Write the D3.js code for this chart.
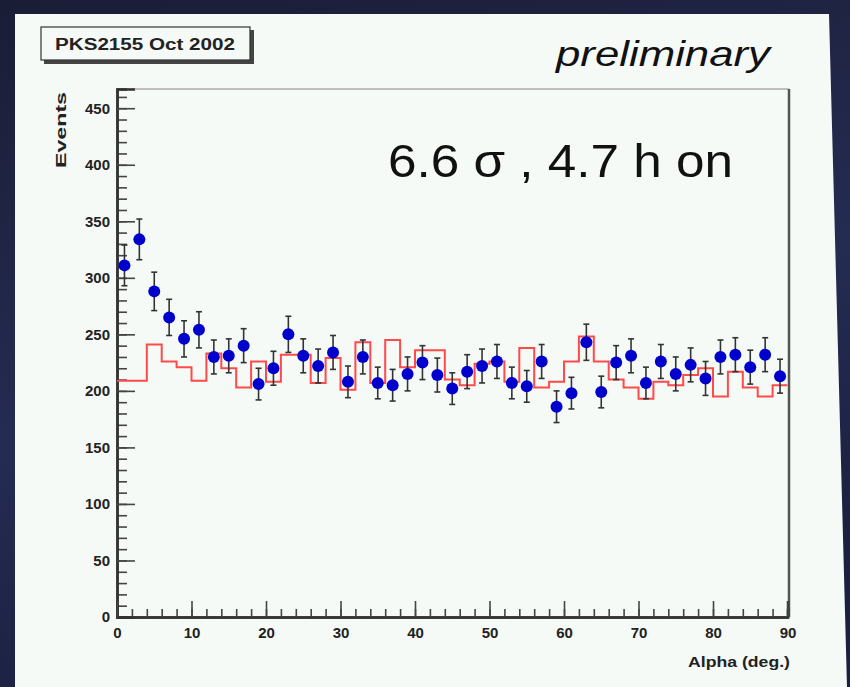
<!DOCTYPE html>
<html>
<head>
<meta charset="utf-8">
<script src="https://cdn.jsdelivr.net/npm/d3@7"></script>
<style>
  body { margin: 0; background: #1c2140; }
  svg { display: block; }
</style>
</head>
<body>
<svg id="graph" width="850" height="687"></svg>
<script>
// alpha bin centres (deg) for ON data points
const alphaCenters = [1, 3, 5, 7, 9, 11, 13, 15, 17, 19, 21, 23, 25, 27, 29, 31, 33, 35, 37, 39, 41, 43, 45,
    47, 49, 51, 53, 55, 57, 59, 61, 63, 65, 67, 69, 71, 73, 75, 77, 79, 81, 83, 85, 87, 89];
const onEvents = [311, 334, 288, 265, 246, 254, 230, 231, 240, 206, 220, 250, 231, 222, 234, 208, 230, 207, 205,
    215, 225, 214, 202, 217, 222, 226, 207, 204, 226, 186, 198, 243, 199, 225, 231, 207, 226, 215, 223, 211,
    230, 232, 221, 232, 213];
const onErrors = [18, 18, 17, 16, 16, 16, 15, 15, 15, 14, 15, 16, 15, 15, 15, 14, 15, 14, 14, 15, 15, 15, 14,
    15, 15, 15, 14, 14, 15, 14, 14, 16, 14, 15, 15, 14, 15, 15, 15, 15, 15, 15, 15, 15, 15];
// OFF (background) histogram, 2 deg bins starting at 0
const offBinWidth = 2;
const offEvents = [209, 209, 241, 226, 221, 209, 233, 220, 203, 226, 208, 232, 232, 207, 229, 201, 243, 207, 245,
    221, 236, 236, 210, 205, 224, 226, 208, 238, 203, 208, 226, 248, 226, 210, 203, 193, 208, 205, 214, 220,
    195, 217, 203, 195, 205];
const yMajorTicks = [0, 50, 100, 150, 200, 250, 300, 350, 400, 450];
const xMajorTicks = [0, 10, 20, 30, 40, 50, 60, 70, 80, 90];

const svg = d3.select("#graph");

// starry backdrop + slightly skewed white slide panel
const defs = svg.append("defs");
const grad = defs.append("linearGradient").attr("id", "sky")
    .attr("x1", 0).attr("y1", 0).attr("x2", 0.3).attr("y2", 1);
grad.append("stop").attr("offset", "0%").attr("stop-color", "#1a1d36");
grad.append("stop").attr("offset", "60%").attr("stop-color", "#252c52");
grad.append("stop").attr("offset", "100%").attr("stop-color", "#1b2040");
svg.append("rect").attr("width", 850).attr("height", 687).attr("fill", "url(#sky)");

svg.append("polygon")
    .attr("points", "15,14 829,14 847,687 15,687")
    .attr("fill", "#f5faf7");

const margin = { top: 89, left: 117, right: 787.5, bottom: 617 };

const x = d3.scaleLinear().domain([0, 90]).range([margin.left, margin.right]);
const y = d3.scaleLinear().domain([0, 467]).range([margin.bottom, margin.top]);

// frame
svg.append("line")
    .attr("x1", margin.left).attr("x2", 789)
    .attr("y1", margin.top).attr("y2", margin.top)
    .attr("stroke", "#aaa").attr("stroke-width", 1.5);
svg.append("line")
    .attr("x1", 789).attr("x2", 789)
    .attr("y1", margin.top).attr("y2", margin.bottom)
    .attr("stroke", "#555").attr("stroke-width", 2.5);

// Y axis (ticks inside)
const yMinor = svg.append("g")
    .attr("transform", `translate(${margin.left},0)`)
    .call(d3.axisLeft(y).tickValues(d3.range(0, 461, 10)).tickSize(-10).tickFormat(""));
const yMajor = svg.append("g")
    .attr("transform", `translate(${margin.left},0)`)
    .call(d3.axisLeft(y).tickValues(yMajorTicks).tickSize(-18).tickPadding(7));

// X axis (ticks inside)
const xMinor = svg.append("g")
    .attr("transform", `translate(0,${margin.bottom})`)
    .call(d3.axisBottom(x).tickValues(d3.range(0, 91, 2)).tickSize(-8).tickFormat(""));
const xMajor = svg.append("g")
    .attr("transform", `translate(0,${margin.bottom})`)
    .call(d3.axisBottom(x).tickValues(xMajorTicks).tickSize(-16).tickPadding(10));

[yMinor, yMajor, xMinor, xMajor].forEach(g => {
    g.select(".domain").attr("stroke", "#333").attr("stroke-width", 2.5);
    g.selectAll(".tick line").attr("stroke", "#444").attr("stroke-width", 1.6);
    g.selectAll("text")
        .attr("fill", "#222")
        .style("font-family", "'Liberation Sans', Arial, sans-serif")
        .style("font-size", "15px")
        .style("font-weight", "bold");
});

// axis titles
svg.append("text")
    .attr("x", 790).attr("y", 667)
    .attr("text-anchor", "end")
    .attr("textLength", 102).attr("lengthAdjust", "spacingAndGlyphs")
    .style("font-family", "'Liberation Sans', Arial, sans-serif")
    .style("font-size", "15px").style("font-weight", "bold").attr("fill", "#222")
    .text("Alpha (deg.)");

svg.append("text")
    .attr("transform", "rotate(-90)")
    .attr("x", -92).attr("y", 66)
    .attr("text-anchor", "end")
    .attr("textLength", 76).attr("lengthAdjust", "spacingAndGlyphs")
    .style("font-family", "'Liberation Sans', Arial, sans-serif")
    .style("font-size", "15px").style("font-weight", "bold").attr("fill", "#222")
    .text("Events");

// background histogram (red steps)
const stepPts = [];
offEvents.forEach((v, i) => {
    stepPts.push([i * offBinWidth, v]);
    stepPts.push([(i + 1) * offBinWidth, v]);
});
svg.append("path")
    .datum(stepPts)
    .attr("fill", "none")
    .attr("stroke", "#ff4a4a")
    .attr("stroke-width", 2)
    .attr("d", d3.line().x(d => x(d[0])).y(d => y(d[1])));

// ON data: error bars + markers
const pts = alphaCenters.map((a, i) => ({ a: a, n: onEvents[i], e: onErrors[i] }));

const bars = svg.append("g").attr("stroke", "#333").attr("stroke-width", 1.6);
bars.selectAll(".ebar")
    .data(pts)
    .enter().append("line")
        .attr("class", "ebar")
        .attr("x1", d => x(d.a)).attr("x2", d => x(d.a))
        .attr("y1", d => y(d.n + d.e)).attr("y2", d => y(d.n - d.e));
bars.selectAll(".capTop")
    .data(pts)
    .enter().append("line")
        .attr("class", "capTop")
        .attr("x1", d => x(d.a) - 3).attr("x2", d => x(d.a) + 3)
        .attr("y1", d => y(d.n + d.e)).attr("y2", d => y(d.n + d.e));
bars.selectAll(".capBot")
    .data(pts)
    .enter().append("line")
        .attr("class", "capBot")
        .attr("x1", d => x(d.a) - 3).attr("x2", d => x(d.a) + 3)
        .attr("y1", d => y(d.n - d.e)).attr("y2", d => y(d.n - d.e));

svg.append("g").selectAll("circle")
    .data(pts)
    .enter().append("circle")
        .attr("cx", d => x(d.a))
        .attr("cy", d => y(d.n))
        .attr("r", 6)
        .attr("fill", "#0000cc");

// legend box
svg.append("rect")
    .attr("x", 44).attr("y", 30).attr("width", 210).attr("height", 34)
    .attr("fill", "#444");
svg.append("rect")
    .attr("x", 41).attr("y", 27).attr("width", 209).attr("height", 33)
    .attr("fill", "#f5faf7").attr("stroke", "#333").attr("stroke-width", 1.2);
svg.append("text")
    .attr("x", 145).attr("y", 50)
    .attr("text-anchor", "middle")
    .attr("textLength", 180).attr("lengthAdjust", "spacingAndGlyphs")
    .style("font-family", "'Liberation Sans', Arial, sans-serif")
    .style("font-size", "16px").style("font-weight", "bold").attr("fill", "#222")
    .text("PKS2155 Oct 2002");

// annotations
svg.append("text")
    .attr("x", 770).attr("y", 66)
    .attr("text-anchor", "end")
    .attr("textLength", 214).attr("lengthAdjust", "spacingAndGlyphs")
    .style("font-family", "'Liberation Sans', Arial, sans-serif")
    .style("font-size", "35px").style("font-style", "italic").attr("fill", "#111")
    .text("preliminary");

svg.append("text")
    .attr("x", 388).attr("y", 177)
    .attr("textLength", 345).attr("lengthAdjust", "spacingAndGlyphs")
    .style("font-family", "'Liberation Sans', Arial, sans-serif")
    .style("font-size", "46px").attr("fill", "#111")
    .text("6.6 σ , 4.7 h on");
</script>
</body>
</html>
